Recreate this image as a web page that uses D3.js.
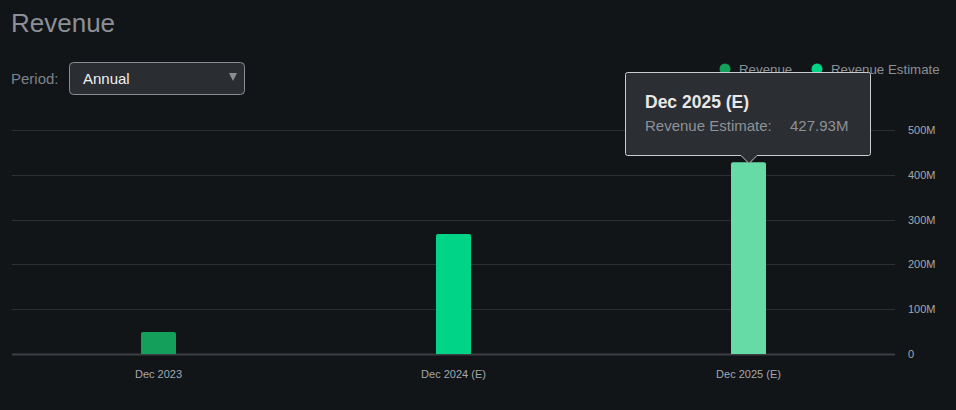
<!DOCTYPE html>
<html><head><meta charset="utf-8">
<script src="https://cdn.jsdelivr.net/npm/d3@7"></script>
<style>
html,body{margin:0;padding:0;background:#121518;}
svg{display:block;font-family:Arial,"Liberation Sans",sans-serif;}
</style></head>
<body>
<svg id="chart" width="956" height="410"></svg>
<script>
const categories = ["Dec 2023", "Dec 2024 (E)", "Dec 2025 (E)"];
const seriesNames = ["Revenue", "Revenue Estimate"];
const seriesOf = ["Revenue", "Revenue Estimate", "Revenue Estimate"];
const values = [49, 268, 427.93]; // millions
const yTicks = [0, 100, 200, 300, 400, 500];
const yTickLabels = ["0", "100M", "200M", "300M", "400M", "500M"];
const highlighted = "Dec 2025 (E)";
const tooltipTitle = "Dec 2025 (E)";
const tooltipLabel = "Revenue Estimate:";
const tooltipValue = "427.93M";

const colors = {"Revenue": "#14a05a", "Revenue Estimate": "#00d486"};
const highlightColor = "#66dba5";

const svg = d3.select("#chart");
const W = 956, H = 410;
svg.append("rect").attr("width", W).attr("height", H).attr("fill", "#121518");

// Title
svg.append("text").attr("x", 11).attr("y", 32).attr("fill", "#8b9096")
  .attr("font-size", 26).text("Revenue");

// Period selector
svg.append("text").attr("x", 11).attr("y", 84).attr("fill", "#7d8287")
  .attr("font-size", 15).text("Period:");
svg.append("rect").attr("x", 69.5).attr("y", 62.5).attr("width", 175).attr("height", 32)
  .attr("rx", 4).attr("fill", "#2a2d31").attr("stroke", "#8a8d91");
svg.append("text").attr("x", 83).attr("y", 84).attr("fill", "#f0f0f0")
  .attr("font-size", 15).text("Annual");
svg.append("path").attr("d", "M229,73 L237,73 L233,81 Z").attr("fill", "#8a8d91");

// Scales
const x = d3.scaleBand().domain(categories).range([12, 897]).paddingInner(0).paddingOuter(0);
const y = d3.scaleLinear().domain([0, 500]).range([354, 130]);
const barW = 35;

// Grid
svg.append("g").selectAll("line").data(yTicks).join("line")
  .attr("x1", 12).attr("x2", 895)
  .attr("y1", d => Math.round(y(d)) + 0.5).attr("y2", d => Math.round(y(d)) + 0.5)
  .attr("stroke", d => d === 0 ? "#3b3e42" : "#2c2f33").attr("stroke-width", d => d === 0 ? 2 : 1);

// Y axis labels (right)
const yAxis = d3.axisRight(y).tickValues(yTicks).tickSize(0).tickPadding(0)
  .tickFormat((d, i) => yTickLabels[i]);
const gy = svg.append("g").attr("transform", "translate(908,0)").call(yAxis);
gy.select(".domain").remove();
gy.selectAll("text").attr("fill", "#a3a8ad").attr("font-size", 11)
  .attr("font-family", "Arial,'Liberation Sans',sans-serif");

// X axis labels
const xAxis = d3.axisBottom(x).tickSize(0).tickPadding(0);
const gx = svg.append("g").attr("transform", "translate(-1,370)").call(xAxis);
gx.select(".domain").remove();
gx.selectAll("text").attr("fill", "#a3a8ad").attr("font-size", 11)
  .attr("font-family", "Arial,'Liberation Sans',sans-serif");

// Bars
svg.append("g").selectAll("path").data(categories).join("path")
  .attr("d", (c, i) => {
    const x0 = Math.round(x(c) + x.bandwidth() / 2 - barW / 2) - 1;
    const y0 = y(values[i]), y1 = y(0);
    const r = 2;
    return `M${x0},${y1} L${x0},${y0 + r} Q${x0},${y0} ${x0 + r},${y0} L${x0 + barW - r},${y0} Q${x0 + barW},${y0} ${x0 + barW},${y0 + r} L${x0 + barW},${y1} Z`;
  })
  .attr("fill", (c, i) => c === highlighted ? highlightColor : colors[seriesOf[i]]);

// Legend
const legend = svg.append("g");
const legItems = [{name: seriesNames[0], cx: 725, tx: 739}, {name: seriesNames[1], cx: 817, tx: 831}];
legItems.forEach(it => {
  legend.append("circle").attr("cx", it.cx).attr("cy", 69).attr("r", 5.5).attr("fill", colors[it.name]);
  legend.append("text").attr("x", it.tx).attr("y", 74).attr("fill", "#8a8f94")
    .attr("font-size", 13.3).text(it.name);
});

// Tooltip
const cx = Math.round(x(highlighted) + x.bandwidth() / 2) - 1;
const tipBottom = 155.5;
const tip = svg.append("g");
tip.append("path")
  .attr("d", `M625.5,74.5 Q625.5,72.5 627.5,72.5 L868.5,72.5 Q870.5,72.5 870.5,74.5 L870.5,${tipBottom - 2} Q870.5,${tipBottom} 868.5,${tipBottom} L${cx + 8},${tipBottom} L${cx},${tipBottom + 8} L${cx - 8},${tipBottom} L627.5,${tipBottom} Q625.5,${tipBottom} 625.5,${tipBottom - 2} Z`)
  .attr("fill", "#2b2e32").attr("stroke", "#c9cbcd").attr("stroke-width", 1);
tip.append("text").attr("x", 645).attr("y", 108).attr("fill", "#e8e8e8")
  .attr("font-size", 17.5).attr("font-weight", "bold").text(tooltipTitle);
tip.append("text").attr("x", 645).attr("y", 131).attr("fill", "#8e9297")
  .attr("font-size", 15).text(tooltipLabel);
tip.append("text").attr("x", 790).attr("y", 131).attr("fill", "#8e9297")
  .attr("font-size", 15).text(tooltipValue);
</script>
</body></html>
